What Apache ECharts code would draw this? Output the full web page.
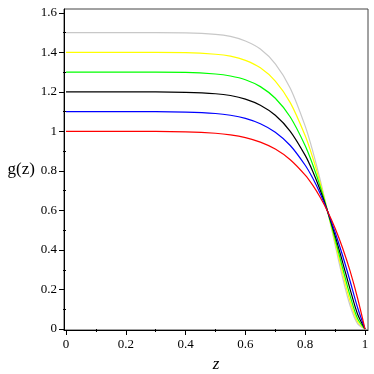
<!DOCTYPE html>
<html>
<head>
<meta charset="utf-8">
<script src="https://cdn.jsdelivr.net/npm/echarts@6/dist/echarts.min.js"></script>
<style>
html,body{margin:0;padding:0;background:#fff;}
#c{width:374px;height:374px;}
</style>
</head>
<body>
<div id="c"></div>
<script>
var zValues = [0, 0.1, 0.2, 0.3, 0.4, 0.5, 0.55, 0.6, 0.65, 0.7, 0.75, 0.8, 0.825, 0.85, 0.875, 0.9, 0.925, 0.95, 0.975, 1];
var gRed    = [1.000, 1.000, 1.000, 1.000, 0.998, 0.991, 0.983, 0.969, 0.946, 0.911, 0.857, 0.779, 0.728, 0.667, 0.595, 0.510, 0.410, 0.294, 0.157, 0];
var gBlue   = [1.100, 1.100, 1.100, 1.100, 1.098, 1.091, 1.082, 1.066, 1.039, 0.996, 0.929, 0.829, 0.764, 0.686, 0.595, 0.490, 0.372, 0.243, 0.109, 0];
var gBlack  = [1.200, 1.200, 1.200, 1.200, 1.198, 1.191, 1.182, 1.164, 1.133, 1.082, 1.001, 0.879, 0.799, 0.704, 0.595, 0.473, 0.339, 0.202, 0.076, 0];
var gGreen  = [1.300, 1.300, 1.300, 1.300, 1.299, 1.291, 1.281, 1.262, 1.227, 1.168, 1.073, 0.928, 0.833, 0.722, 0.595, 0.456, 0.310, 0.169, 0.053, 0];
var gYellow = [1.400, 1.400, 1.400, 1.400, 1.399, 1.391, 1.381, 1.360, 1.322, 1.255, 1.146, 0.978, 0.868, 0.739, 0.595, 0.440, 0.284, 0.142, 0.038, 0];
var gGray   = [1.500, 1.500, 1.500, 1.500, 1.499, 1.492, 1.481, 1.458, 1.417, 1.342, 1.219, 1.027, 0.902, 0.756, 0.595, 0.426, 0.260, 0.119, 0.027, 0];

var xTicks = [0, 0.2, 0.4, 0.6, 0.8, 1];
var xMinorTicks = [0.1, 0.3, 0.5, 0.7, 0.9];
var yTicks = [0, 0.2, 0.4, 0.6, 0.8, 1, 1.2, 1.4, 1.6];
var yMinorTicks = [0.1, 0.3, 0.5, 0.7, 0.9, 1.1, 1.3, 1.5];

var seriesDefs = [
  {name: 'g=1.5', values: gGray,   color: '#c8c8c8'},
  {name: 'g=1.4', values: gYellow, color: '#ffff00'},
  {name: 'g=1.3', values: gGreen,  color: '#00ff00'},
  {name: 'g=1.2', values: gBlack,  color: '#000000'},
  {name: 'g=1.1', values: gBlue,   color: '#0000ff'},
  {name: 'g=1.0', values: gRed,    color: '#ff0000'}
];

function pairs(vals) { return zValues.map(function (z, i) { return [z, vals[i]]; }); }

var font = 'Liberation Serif';
var chart = echarts.init(document.getElementById('c'), null, {renderer: 'canvas'});

var xMin = -0.0067, xMax = 1.010, yMin = -0.005, yMax = 1.620;

function fmt(v) { return String(Math.round(v * 10) / 10); }

chart.setOption({
  animation: false,
  backgroundColor: '#ffffff',
  grid: {left: 64, right: 6, top: 9, bottom: 44, show: true, borderColor: '#444', borderWidth: 1,
         containLabel: false, outerBoundsMode: 'none'},
  xAxis: [{
    type: 'value', min: xMin, max: xMax,
    name: 'z', nameLocation: 'middle', nameGap: 23,
    nameTextStyle: {fontFamily: font, fontSize: 17, fontStyle: 'italic', color: '#000'},
    axisLine: {show: true, onZero: false, lineStyle: {color: '#000', width: 1}},
    axisTick: {show: true, length: 5, lineStyle: {color: '#000'}, customValues: xTicks},
    axisLabel: {show: true, margin: 8, fontFamily: font, fontSize: 13, color: '#000', customValues: xTicks, formatter: fmt},
    splitLine: {show: false}
  }, {
    type: 'value', min: xMin, max: xMax, position: 'bottom',
    axisLine: {show: false},
    axisTick: {show: true, length: 3, lineStyle: {color: '#000'}, customValues: xMinorTicks},
    axisLabel: {show: false},
    splitLine: {show: false}
  }],
  yAxis: [{
    type: 'value', min: yMin, max: yMax,
    name: 'g(z)', nameLocation: 'middle', nameGap: 29, nameRotate: 0,
    nameTextStyle: {fontFamily: font, fontSize: 17, color: '#000'},
    axisLine: {show: true, onZero: false, lineStyle: {color: '#000', width: 1}},
    axisTick: {show: true, length: 5, lineStyle: {color: '#000'}, customValues: yTicks},
    axisLabel: {show: true, margin: 7, fontFamily: font, fontSize: 13, color: '#000', customValues: yTicks, formatter: fmt},
    splitLine: {show: false}
  }, {
    type: 'value', min: yMin, max: yMax, position: 'left',
    axisLine: {show: false},
    axisTick: {show: true, length: 3, lineStyle: {color: '#000'}, customValues: yMinorTicks},
    axisLabel: {show: false},
    splitLine: {show: false}
  }],
  series: seriesDefs.map(function (s) {
    return {
      name: s.name, type: 'line', xAxisIndex: 0, yAxisIndex: 0,
      data: pairs(s.values), smooth: 0.3, symbol: 'none',
      lineStyle: {color: s.color, width: 1.2}
    };
  })
});
</script>
</body>
</html>
